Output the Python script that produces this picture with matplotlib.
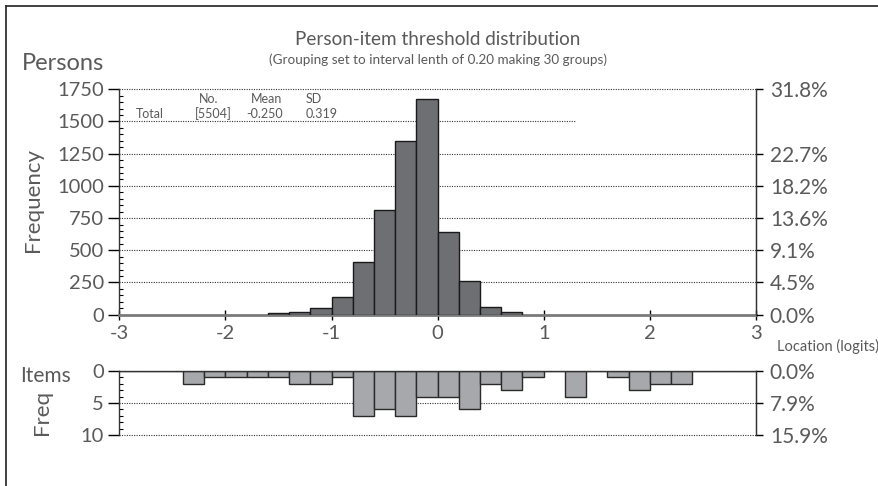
import matplotlib.pyplot as plt
import numpy as np
from matplotlib.lines import Line2D

plt.rcParams['font.family'] = ['Lato', 'DejaVu Sans']
plt.rcParams['axes.unicode_minus'] = False

# 30 groups of width 0.20 between -3 and 3 (lower edges)
group_start = -3.0
group_width = 0.2
n_groups = 30

# persons per group
person_counts = [0, 0, 0, 0, 0, 0, 0,
                 15, 18, 50, 140, 412, 812, 1346, 1672, 642, 263, 62, 23,
                 0, 0, 0, 0, 0, 0, 0, 0, 0, 0, 0]
# item thresholds per group
item_counts = [0, 0, 0, 2, 1, 1, 1, 1, 2, 2, 1, 7, 6, 7, 4,
               4, 6, 2, 3, 1, 0, 4, 0, 1, 3, 2, 2, 0, 0, 0]

person_total = 5504
person_mean = -0.250
person_sd = 0.319

person_ticks = [0, 250, 500, 750, 1000, 1250, 1500, 1750]
person_pct_ticks = [0, 250, 500, 750, 1000, 1250, 1750]
item_ticks = [0, 5, 10]
x_ticks = [-3, -2, -1, 0, 1, 2, 3]

txt = '#5a5a5a'
dot = (0, (1, 1.2))

edges = group_start + group_width * np.arange(n_groups)
n_items = sum(item_counts)
pc = np.array(person_counts)
has_p = pc > 0

fig = plt.figure(figsize=(8.79, 4.86), dpi=100)

# ---- persons panel ----
ax = fig.add_axes([0.1357, 0.3525, 0.7243, 0.4638])
ax.bar(edges[has_p], pc[has_p], width=group_width, align='edge',
       color='#6e6f73', edgecolor='#1a1a1a', linewidth=1.0, zorder=3)
ax.set_xlim(-3, 3)
ax.set_ylim(0, 1750)
for v in [250, 500, 750, 1000, 1250, 1750]:
    ax.plot([-3, 3], [v, v], ls=dot, color='#333333', lw=0.8, zorder=1,
            clip_on=False)
ax.plot([-3, 1.3], [1500, 1500], ls=dot, color='#333333', lw=0.8, zorder=1)

ax.spines['top'].set_visible(False)
ax.spines['bottom'].set_color('#7a7a7a')
ax.spines['bottom'].set_linewidth(2)
for s in ['left', 'right']:
    ax.spines[s].set_color('#333333')
    ax.spines[s].set_linewidth(1.0)

ax.set_yticks(person_ticks)
ax.set_yticks(np.arange(0, 1751, 50), minor=True)
ax.tick_params(axis='y', which='major', direction='out', length=8, width=1,
               labelsize=14.5, labelcolor=txt, pad=3)
ax.tick_params(axis='y', which='minor', direction='in', length=3, width=0.8)
ax.set_xticks(x_ticks)
ax.tick_params(axis='x', direction='inout', length=7, width=1, labelsize=14.5,
               labelcolor=txt, pad=4)

ax2 = ax.twinx()
ax2.set_ylim(0, 1750)
ax2.set_yticks(person_pct_ticks)
ax2.set_yticklabels([f'{v / person_total * 100:.1f}%' for v in person_pct_ticks])
ax2.tick_params(axis='y', direction='out', length=5, width=1, labelsize=15,
                labelcolor=txt, pad=5)
for s in ['top', 'left', 'bottom']:
    ax2.spines[s].set_visible(False)
ax2.spines['right'].set_color('#333333')

# summary of person locations
ax.text(-2.16, 1640, 'No.', fontsize=9, color=txt, ha='center')
ax.text(-1.615, 1640, 'Mean', fontsize=9, color=txt, ha='center')
ax.text(-1.165, 1640, 'SD', fontsize=9, color=txt, ha='center')
ax.text(-2.84, 1525, 'Total', fontsize=9, color=txt, ha='left')
ax.text(-2.11, 1525, f'[{person_total}]', fontsize=9, color=txt, ha='center')
ax.text(-1.63, 1525, f'{person_mean:.3f}', fontsize=9, color=txt, ha='center')
ax.text(-1.095, 1525, f'{person_sd:.3f}', fontsize=9, color=txt, ha='center')

# ---- items panel ----
bx = fig.add_axes([0.1357, 0.1043, 0.7243, 0.1329])
bx.bar(edges, item_counts, width=group_width, align='edge',
       color='#a7a8ab', edgecolor='#2a2a2a', linewidth=1.0, zorder=3)
bx.set_xlim(-3, 3)
bx.set_ylim(10, 0)
for v in [5, 10]:
    bx.plot([-3, 3], [v, v], ls=dot, color='#333333', lw=0.8, zorder=1,
            clip_on=False)
bx.spines['bottom'].set_visible(False)
for s in ['top', 'left', 'right']:
    bx.spines[s].set_color('#333333')
    bx.spines[s].set_linewidth(1.0)
bx.spines['top'].set_zorder(4)
bx.set_xticks([])
bx.set_yticks(item_ticks)
bx.set_yticks(np.arange(0, 11, 1), minor=True)
bx.tick_params(axis='y', which='major', direction='out', length=8, width=1,
               labelsize=14.5, labelcolor=txt, pad=3)
bx.tick_params(axis='y', which='minor', direction='in', length=3, width=0.8)

bx2 = bx.twinx()
bx2.set_ylim(10, 0)
bx2.set_yticks(item_ticks)
bx2.set_yticklabels([f'{v / n_items * 100:.1f}%' for v in item_ticks])
bx2.tick_params(axis='y', direction='out', length=5, width=1, labelsize=15,
                labelcolor=txt, pad=5)
for s in ['top', 'left', 'bottom']:
    bx2.spines[s].set_visible(False)
bx2.spines['right'].set_color('#333333')

# ---- titles and labels ----
fig.text(0.4983, 0.918, 'Person-item threshold distribution', fontsize=13.6,
         color=txt, ha='center', va='center')
fig.text(0.4983, 0.878, '(Grouping set to interval lenth of 0.20 making 30 groups)',
         fontsize=9.7, color=txt, ha='center', va='center')
fig.text(0.025, 0.870, 'Persons', fontsize=17, color=txt, ha='left', va='center')
fig.text(0.038, 0.589, 'Frequency', fontsize=16, color=txt, rotation=90,
         ha='center', va='center')
fig.text(0.023, 0.226, 'Items', fontsize=15, color=txt, ha='left', va='center')
fig.text(0.048, 0.152, 'Freq', fontsize=16, color=txt, rotation=90,
         ha='center', va='center')
fig.text(0.884, 0.288, 'Location (logits)', fontsize=10.5, color=txt,
         ha='left', va='center')

# outer frame
fig.add_artist(Line2D([0.007, 0.007], [0, 0.988], transform=fig.transFigure,
                      color='#333333', lw=1.3))
fig.add_artist(Line2D([0.007, 1.0], [0.988, 0.988], transform=fig.transFigure,
                      color='#333333', lw=1.3))

fig.savefig('out.png', dpi=100)
